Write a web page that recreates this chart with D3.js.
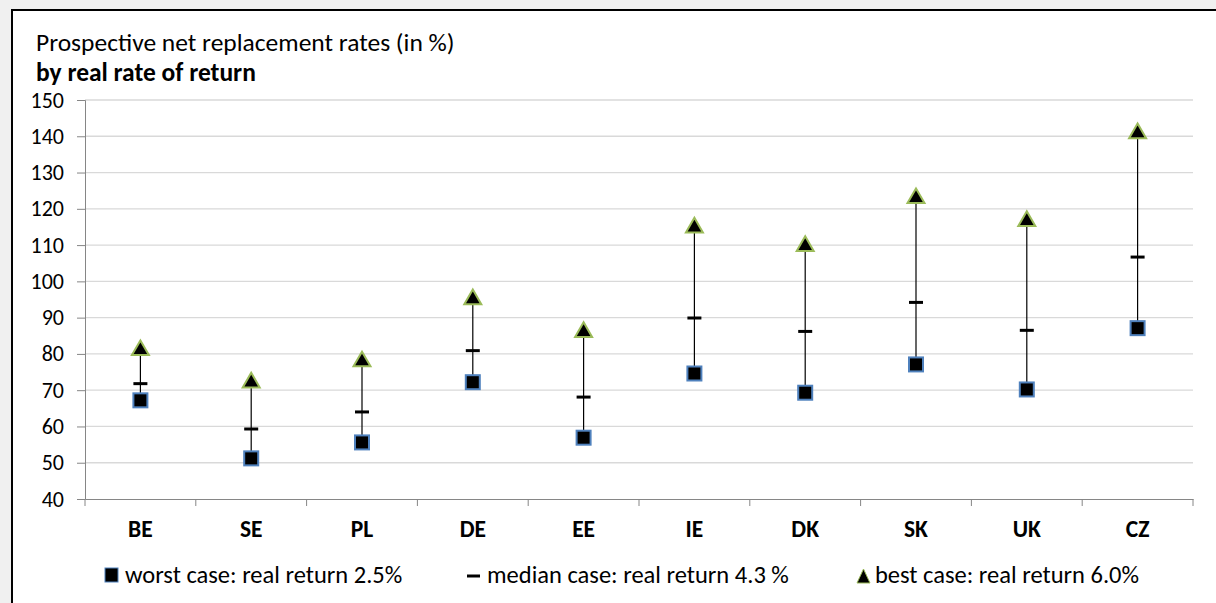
<!DOCTYPE html>
<html><head><meta charset="utf-8">
<script src="https://cdn.jsdelivr.net/npm/d3@7"></script>
<style>body{margin:0;background:#f0f0f0;}svg{display:block;}</style>
</head><body>
<svg id="c" width="1216" height="603"></svg>
<script>
const categories = ["BE","SE","PL","DE","EE","IE","DK","SK","UK","CZ"];
const worst  = [67.2, 51.2, 55.6, 72.2, 56.9, 74.6, 69.3, 77.1, 70.2, 87.1];
const median = [71.8, 59.3, 64.0, 80.9, 68.1, 89.9, 86.2, 94.2, 86.5, 106.7];
const best   = [81.3, 72.4, 78.2, 95.3, 86.3, 115.1, 110.0, 123.2, 116.9, 141.1];
const yTicks = [40,50,60,70,80,90,100,110,120,130,140,150];
const legendLabels = ["worst case: real return 2.5%","median case: real return 4.3 %","best case: real return 6.0%"];
const titleLines = ["Prospective net replacement rates (in %)","by real rate of return"];

const font = "Carlito, 'Open Sans', 'Liberation Sans', sans-serif";
const svg = d3.select("#c").style("font-family", font);
svg.append("rect").attr("x",12).attr("y",10).attr("width",1220).attr("height",610)
  .attr("fill","#fff").attr("stroke","#000").attr("stroke-width",2);

const L=85,R=1193,T=100,B=499;
const x = d3.scaleBand().domain(categories).range([L,R]);
const y = d3.scaleLinear().domain([40,150]).range([B,T]);

svg.append("text").attr("x",36).attr("y",51).attr("font-size",25.5).attr("fill","#000").text(titleLines[0]);
svg.append("text").attr("x",36).attr("y",81).attr("font-size",25.5).attr("font-weight","bold").attr("fill","#000").text(titleLines[1]);

// gridlines
svg.append("g").selectAll("line").data(yTicks.slice(1)).join("line")
  .attr("x1",L).attr("x2",R).attr("y1",d=>y(d)).attr("y2",d=>y(d))
  .attr("stroke","#d9d9d9").attr("stroke-width",1.3);

// y axis
const ya = svg.append("g").attr("transform",`translate(${L},0)`)
  .call(d3.axisLeft(y).tickValues(yTicks).tickSize(8).tickPadding(13));
ya.select(".domain").attr("stroke","#868686");
ya.selectAll(".tick line").attr("stroke","#868686");
ya.selectAll("text").attr("font-size",22).attr("fill","#000").attr("font-family",font);

// x axis
const xa = svg.append("g").attr("transform",`translate(0,${B})`)
  .call(d3.axisBottom(x).tickSize(0).tickPadding(21));
xa.select(".domain").attr("stroke","#868686");
xa.selectAll("text").attr("font-size",23.5).attr("font-weight","bold").attr("fill","#000").attr("font-family",font);
svg.append("g").selectAll("line").data(d3.range(categories.length+1)).join("line")
  .attr("x1",i=>L+i*x.step()).attr("x2",i=>L+i*x.step()).attr("y1",B).attr("y2",B+7)
  .attr("stroke","#868686");

const cx = d => x(d)+x.bandwidth()/2;
const g = svg.append("g");
categories.forEach((c,i)=>{
  g.append("line").attr("x1",cx(c)).attr("x2",cx(c)).attr("y1",y(worst[i])).attr("y2",y(best[i]))
    .attr("stroke","#000").attr("stroke-width",1.2);
  g.append("line").attr("x1",cx(c)-7).attr("x2",cx(c)+7).attr("y1",y(median[i])).attr("y2",y(median[i]))
    .attr("stroke","#000").attr("stroke-width",3);
  g.append("rect").attr("x",cx(c)-7).attr("y",y(worst[i])-7).attr("width",14).attr("height",14)
    .attr("fill","#000").attr("stroke","#4f81bd").attr("stroke-width",2);
  g.append("path").attr("d",d3.symbol(d3.symbolTriangle,125)()).attr("transform",`translate(${cx(c)},${y(best[i])+1})`)
    .attr("fill","#000").attr("stroke","#9bbb59").attr("stroke-width",2);
});

// legend
const lg = svg.append("g");
lg.append("rect").attr("x",105).attr("y",568).attr("width",13).attr("height",14).attr("fill","#000").attr("stroke","#4f81bd").attr("stroke-width",1);
lg.append("text").attr("x",125).attr("y",583).attr("font-size",24.5).text(legendLabels[0]);
lg.append("line").attr("x1",467).attr("x2",480).attr("y1",576).attr("y2",576).attr("stroke","#000").attr("stroke-width",3);
lg.append("text").attr("x",487).attr("y",583).attr("font-size",24.5).text(legendLabels[1]);
lg.append("path").attr("d","M857,583 L863.5,569 L870,583 Z").attr("fill","#000").attr("stroke","#9bbb59").attr("stroke-width",1);
lg.append("text").attr("x",875).attr("y",583).attr("font-size",24.5).text(legendLabels[2]);
</script>
</body></html>
